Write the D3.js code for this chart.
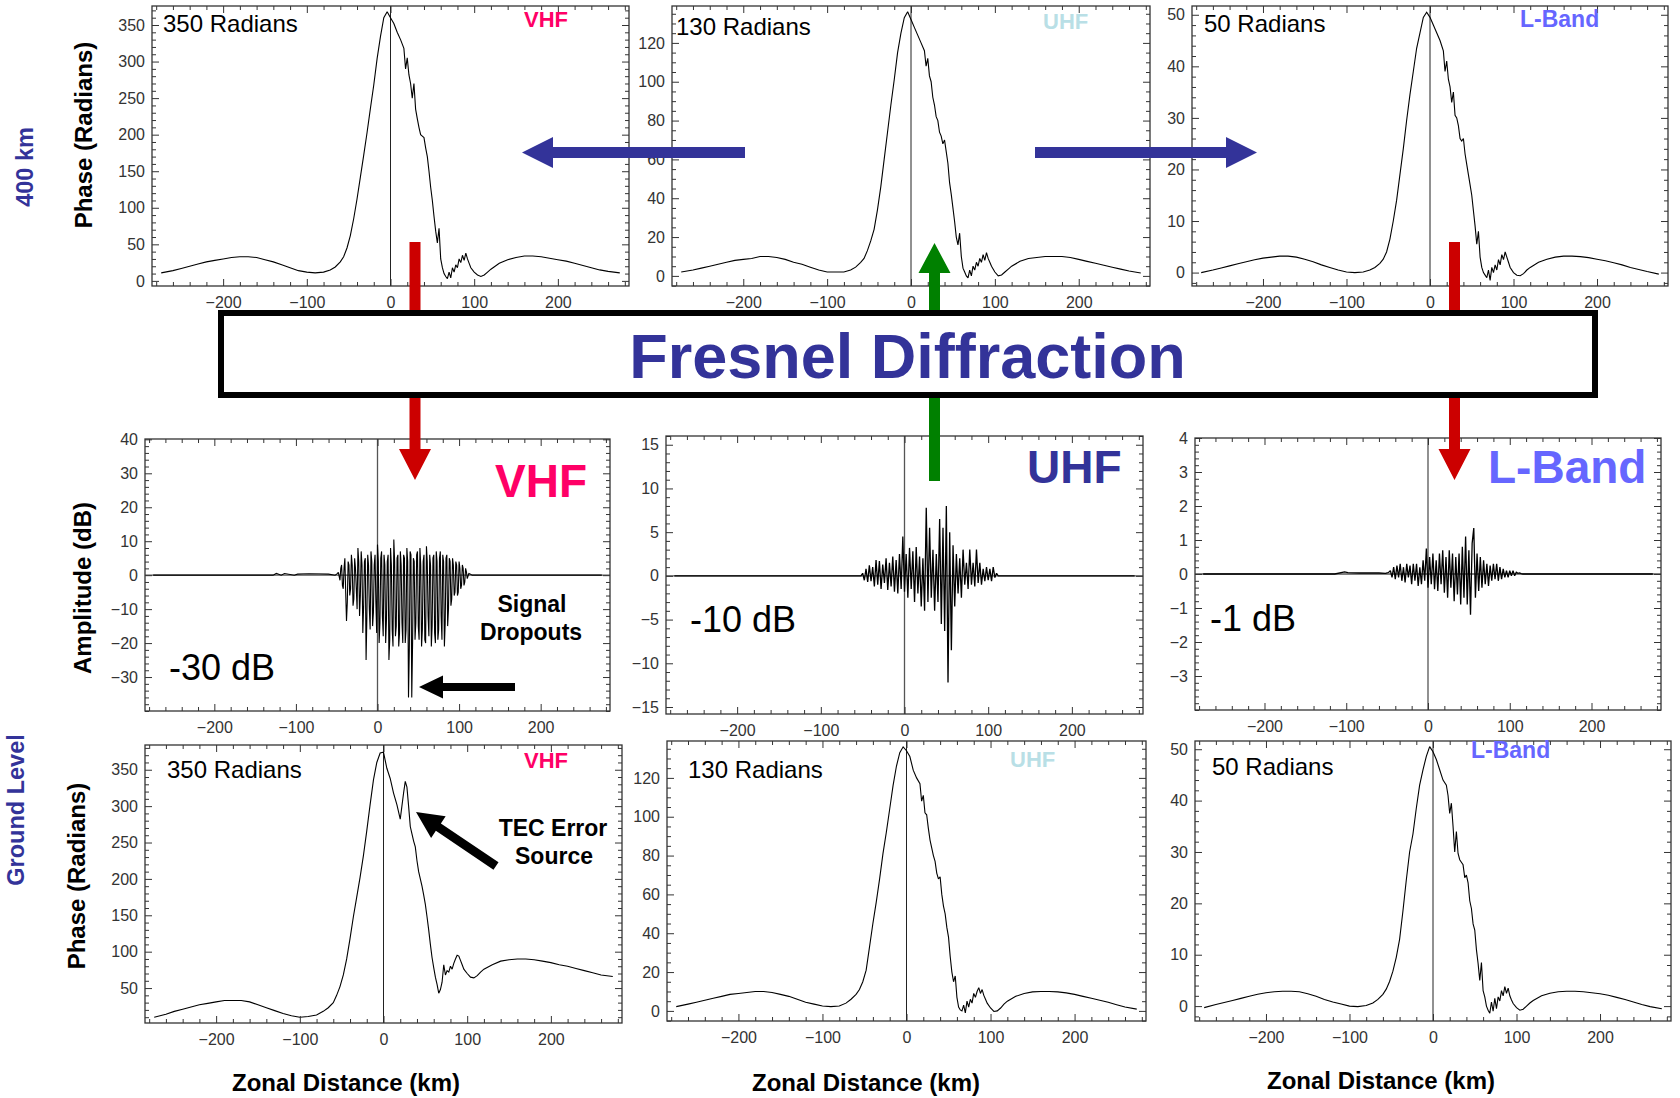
<!DOCTYPE html>
<html><head><meta charset="utf-8">
<script src="https://cdn.jsdelivr.net/npm/d3@7"></script>
<style>body{margin:0;background:#fff}svg{display:block}</style>
</head><body>
<svg id="c" width="1680" height="1098"></svg>
<script>
// ---------------- DATA ----------------
const xTicks = [-200, -100, 0, 100, 200];
const ticksVHFPhase = [0, 50, 100, 150, 200, 250, 300, 350];
const ticksVHFGround = [50, 100, 150, 200, 250, 300, 350];
const ticksUHFPhase = [0, 20, 40, 60, 80, 100, 120];
const ticksLPhase = [0, 10, 20, 30, 40, 50];
const ticksVHFAmp = [-30, -20, -10, 0, 10, 20, 30, 40];
const ticksUHFAmp = [-15, -10, -5, 0, 5, 10, 15];
const ticksLAmp = [-3, -2, -1, 0, 1, 2, 3, 4];

// zonal distance (km) of phase samples
const phaseKm = [
  -274,-260,-250,-240,-230,-220,-210,-200,-190,-180,
  -170,-160,-150,-140,-130,-120,-110,-100,-90,-80,
  -72,-66,-60,-56,-52,-48,-44,-40,-36,-32,
  -28,-24,-20,-16,-12,-8,-4,0,4,8,
  12,16,18,20,22,24,26,28,30,32,
  34,36,38,40,42,44,46,48,50,52,
  54,56,58,60,62,64,66,68,70,72,
  74,76,78,80,82,84,86,88,90,92,
  94,96,100,104,108,112,116,120,130,140,
  150,160,170,180,190,200,210,220,230,240,
  250,260,274];

// phase at 400 km (radians)
const vhf400 = [
  11,14,17,20,23,26,28,30,32,33,
  33,32,29,26,22,18,14,12,11,12,
  15,19,26,33,45,62,85,112,142,172,
  203,236,268,304,334,360,368,360,352,340,
  330,318,290,305,282,270,250,270,235,222,
  210,200,198,196,182,170,150,128,110,88,
  68,52,72,30,18,10,6,3,12,4,
  18,12,22,18,30,25,35,28,38,30,
  24,18,12,8,6,8,12,16,24,29,
  32,34,34,33,31,29,27,24,21,18,
  15,13,11];
const uhf400 = [
  2,3,4,5,6,7,8,8.5,9,10,
  10,9.5,8.5,7,6,4.5,3,2,2,2,
  3,4.5,7,9,13,18,24,34,46,60,
  74,88,101,115,125,133,136,132,128,124,
  120,116,108,112,103,100,92,88,82,80,
  74,72,68,70,64,58,48,42,35,28,
  20,16,22,10,4,2,0,-1,3,0,
  5,3,7,5,9,7,11,8,12,9,
  7,5,2,0,0.5,2,3.5,5,7.5,9,
  9.5,10,10,10,9.5,8.5,7.5,6.5,5.5,4.5,
  3.5,2.5,1.5];
const lband400 = [
  0,0.5,0.9,1.3,1.7,2.1,2.5,2.8,3.0,3.2,
  3.2,3.0,2.6,2.1,1.5,1.0,0.5,0.1,0,0.1,
  0.5,1.0,1.8,2.6,4,6.5,10,14,19,24,
  29.5,34.5,39,43.5,46.5,49.5,50.5,49.5,48,46.5,
  45,43,39,41,37.5,36,33,35,30.5,30,
  28.5,26,25.5,26,23,21,19,17,15,12,
  9,5.5,8,3,1,0,-0.5,-1,0.5,-1.5,
  1,0,1.5,0.5,2.5,1.5,3.5,2.5,4,3,
  2,1,0,-0.5,-0.6,-0.2,0.5,1,2,2.6,
  3,3.2,3.2,3.1,2.9,2.6,2.3,1.9,1.5,1.0,
  0.6,0.2,-0.3];

// phase at ground level (radians)
const vhfGround = [
  10,14,18,21,24,27,29,31,33,33,
  33,31,27,23,19,15,12,10,11,13,
  18,23,30,40,52,68,90,118,148,175,
  202,232,266,302,336,360,373,374,352,338,
  318,302,292,282,300,318,334,326,300,272,
  262,252,244,225,210,200,190,178,165,148,
  130,110,92,78,65,55,43,48,58,82,
  68,74,72,80,76,84,90,95,94,88,
  82,76,70,65,64,67,72,76,82,87,
  89,90,90,89,87,85,82,80,77,74,
  71,68,66];
const uhfGround = [
  2.2,3.5,4.5,5.5,6.5,7.5,8.5,9,9.5,10,
  10,9.5,8.5,7.5,6,4.5,3.5,2.5,2.2,2.5,
  4,6,8.5,11,15,21,33,45,56,68,
  81,92,104,116,126,133,136,134,131,124,
  120,117,108,111,102,101,94,88,84,80,
  77,71,68,69,60,54,50,43,38,28,
  20,15,18,7,2,0.5,0,3,-1,5,
  2,6,4,9,7,10,12,9,11,8,
  6,4,1.5,-0.3,0,1.5,3.5,5,7.5,9,
  9.8,10,10,9.8,9.3,8.5,7.5,6.5,5.5,4.5,
  3.2,2,0.9];
const lbandGround = [
  -0.3,0.3,0.7,1.1,1.5,1.9,2.3,2.6,2.8,2.9,
  2.9,2.8,2.4,1.9,1.3,0.8,0.4,0,-0.1,0.1,
  0.6,1.3,2.3,3.3,4.8,6.8,9.5,13,18.5,24.5,
  30,33.5,38.5,43,46,48.6,50.5,49.5,48,46,
  44,43,41,37.5,39.5,35,30,34,29.7,28.5,
  28,27.5,25,25.5,24,20.5,19,16,14.8,11,
  8.3,5,8.5,3,1.8,0,-0.8,-1.4,0.8,-1,
  1.5,-0.5,1.8,1,3,2,3.8,2.5,3.5,2,
  1.2,0.5,-0.3,-0.8,-0.6,0,0.6,1.1,2,2.5,
  2.8,2.9,2.9,2.8,2.6,2.4,2.1,1.7,1.3,0.8,
  0.3,-0.1,-0.5];

// VHF amplitude: zonal distance (km) and amplitude (dB)
const vhfAmpKm = [
  -275,-128,-124,-118,-114,-102,-98,-84,-60,-52,-50,-48,
  -46,-45,-44,-43,-42,-41,-40,-39,-38,-37,
  -36,-35,-34,-33,-32,-31,-30,-29,-28,-27,
  -26,-25,-24,-23,-22,-21,-20,-19,-18,-17,
  -16,-15,-14,-13,-12,-11,-10,-9,-8,-7,
  -6,-5,-4,-3,-2,-1,0,1,2,3,
  4,5,6,7,8,9,10,11,12,13,
  14,15,16,17,18,19,20,21,22,23,
  24,25,26,27,28,29,30,31,32,33,
  34,35,36,37,38,39,40,41,42,43,
  44,45,46,47,48,49,50,51,52,53,
  54,55,56,57,58,59,60,61,62,63,
  64,65,66,67,68,69,70,71,72,73,
  74,75,76,77,78,79,80,81,82,83,
  84,85,86,87,88,89,90,91,92,93,
  94,95,96,97,98,99,100,101,102,103,
  104,105,106,107,108,109,110,
  112,114,116,275];
const vhfAmp = [
  0,0,0.5,0,0.5,0,0.3,0.4,0.3,0,0.3,0.8,
  -1.5,2,3,-3,-4,2,5,-5,-13.5,-8,
  4,3,-6,-4,6,3,-9,-7,5,2,
  -4,-10,8,4,-12,-6,7,3,-17,-9,
  4,5,-25,-12,6,3,-10,-16,7,4,
  -15,-11,3,6,-8,-17,9,4,-20,-14,
  5,7,-12,-18,6,3,-20,-13,4,6,
  -25,-19,8,3,-16,-21,10.5,4,-18,-15,
  5,6,-21,-17,7,3,-14,-20,6,5,
  -20,-16,8,4,-36,-22,7,6,-36,-20,
  5,4,-19,-14,6,7,-15,-19,8,3,
  -21,-16,4,6,-19,-20,8.5,4,-12,-18,
  6,3,-21,-15,5,6,-17,-20,7,4,
  -19,-16,5,7,-12,-19,6,4,-21,-14,
  5,6,-15,-10,5,4,-9,-7,5,3,
  -6,-5,4,3,-6,-5,4,2,-4,-3,
  3,2,-3,-2,2,1,-1,
  0.5,0.3,0,0];

// UHF and L-band amplitude: zonal distance (km) and amplitude (dB)
const ampKm = [
  -275,-128,-124,-118,-114,-102,-98,-84,-60,
  -52,-50,-48,-46,-44,-42,-40,-38,-36,-34,
  -32,-30,-28,-26,-24,-22,-20,-18,-16,-14,
  -12,-10,-8,-6,-4,-2,0,2,4,6,
  8,10,12,14,16,18,20,22,24,26,
  28,30,32,34,36,38,40,42,44,46,
  48,50,52,54,56,58,60,62,64,66,
  68,70,72,74,76,78,80,82,84,86,
  88,90,92,94,96,98,100,102,104,106,
  108,110,112,114,116,
  275];
const uhfAmp = [
  0,0,0,0,0,0,0,0,0,
  0,0.3,-0.5,0.8,-0.7,1.2,-0.6,1.0,-1.2,1.8,
  -1.0,1.7,-1.5,1.3,-0.8,2.0,-1.6,1.5,-1.2,2.2,
  -1.8,1.8,-2.0,2.5,-1.5,4.5,-1.8,2.5,-2.5,3.2,
  -1.5,2.8,-3.0,3.3,-2.0,2.2,-3.5,2.0,-4.0,7.8,
  -3.0,5.5,-2.5,3.0,-4.0,2.5,-3.0,6.5,-5.5,5.5,
  -6.3,8.0,-12.2,5.0,-8.5,3.5,-3.5,2.5,-2.0,2.0,
  -2.5,3.0,-1.0,1.5,-1.5,3.0,-1.0,1.5,-1.2,3.0,
  -0.8,1.5,-1.0,0.8,-0.6,1.0,-0.5,0.8,-0.6,1.0,
  -0.2,0.3,0,0,0,
  0];
const lbandAmp = [
  0,0,0,0,0,0.06,0.04,0.03,0.03,
  0.02,0.03,0.05,0.1,-0.1,0.2,-0.15,0.25,-0.1,0.3,
  -0.2,0.2,-0.25,0.3,-0.1,0.25,-0.3,0.3,-0.2,0.3,
  -0.35,0.2,-0.3,0.4,-0.2,0.75,-0.4,0.5,-0.3,0.6,
  -0.45,0.4,-0.5,0.6,-0.3,0.7,-0.55,0.5,-0.7,0.7,
  -0.4,0.6,-0.8,0.5,-0.6,0.6,-0.9,0.8,-0.7,1.1,
  -0.9,0.7,-1.2,0.9,1.35,-0.7,0.6,-0.5,0.5,-0.4,
  0.4,-0.3,0.3,-0.35,0.25,-0.2,0.3,-0.15,0.3,-0.2,
  0.2,-0.15,0.15,-0.1,0.1,-0.1,0.1,-0.05,0.1,-0.05,
  0.05,0.02,0.03,0.01,0,
  0];

// ---------------- LAYOUT ----------------
const FONT = "'Liberation Sans', Arial, Helvetica, sans-serif";
const NAVY = "#333399", PINK = "#ff0066", LIGHT = "#b9dfe6", LBLUE = "#6666ff";
const xDomain = [-285, 285];

const panels = [
  {L:152, R:629,  T:6,   B:286,  yd:[-7, 376],    yt:ticksVHFPhase,  mn:10,  xs:phaseKm,  ys:vhf400,   sw:1.1},
  {L:672, R:1150, T:6,   B:286,  yd:[-5.2, 139],  yt:ticksUHFPhase,  mn:5,   xs:phaseKm,  ys:uhf400,   sw:1.1},
  {L:1192,R:1668, T:6,   B:286,  yd:[-2.6, 51.7], yt:ticksLPhase,    mn:2,   xs:phaseKm,  ys:lband400, sw:1.1},
  {L:145, R:610,  T:439, B:711,  yd:[-40, 40.1],  yt:ticksVHFAmp,    mn:2,   xs:vhfAmpKm, ys:vhfAmp,   sw:1.1, amp:true},
  {L:666, R:1143, T:436, B:714,  yd:[-15.8, 16],  yt:ticksUHFAmp,    mn:1,   xs:ampKm,    ys:uhfAmp,   sw:1.3, amp:true},
  {L:1195,R:1661, T:438, B:710,  yd:[-4, 4],      yt:ticksLAmp,      mn:0.2, xs:ampKm,    ys:lbandAmp, sw:1.3, amp:true},
  {L:145, R:622,  T:745, B:1023, yd:[2, 384],     yt:ticksVHFGround, mn:10,  xs:phaseKm,  ys:vhfGround,   sw:1.1},
  {L:667, R:1146, T:741, B:1021, yd:[-5.2, 139],  yt:ticksUHFPhase,  mn:5,   xs:phaseKm,  ys:uhfGround,   sw:1.1},
  {L:1195,R:1671, T:741, B:1021, yd:[-2.9, 51.6], yt:ticksLPhase,    mn:2,   xs:phaseKm,  ys:lbandGround, sw:1.1}
];

const svg = d3.select('#c');
const defs = svg.append('defs');
const fmt = d3.format('d');

function minors(domain, step, majors) {
  const lo = Math.ceil(domain[0] / step - 1e-9), hi = Math.floor(domain[1] / step + 1e-9);
  const out = [];
  for (let k = lo; k <= hi; k++) {
    const v = +(k * step).toFixed(6);
    if (!majors.some(m => Math.abs(m - v) < 1e-6)) out.push(v);
  }
  return out;
}

function styleAxis(g) {
  g.select('.domain').remove();
  g.selectAll('.tick line').attr('stroke', '#333').attr('stroke-width', 1);
  g.selectAll('.tick text').attr('font-family', FONT).attr('font-size', 16).attr('fill', '#333');
}

panels.forEach((p, i) => {
  const x = d3.scaleLinear().domain(xDomain).range([p.L, p.R]);
  const y = d3.scaleLinear().domain(p.yd).range([p.B, p.T]);
  const g = svg.append('g');
  const cid = 'clip' + i;
  defs.append('clipPath').attr('id', cid).append('rect')
    .attr('x', p.L).attr('y', p.T).attr('width', p.R - p.L).attr('height', p.B - p.T);

  // axes lines (Mathematica style)
  g.append('line').attr('x1', x(0)).attr('x2', x(0)).attr('y1', p.T).attr('y2', p.B)
    .attr('stroke', p.amp ? '#555' : '#222').attr('stroke-width', p.amp ? 1.3 : 1);
  if (p.amp) {
    g.append('line').attr('x1', p.L).attr('x2', p.R).attr('y1', y(0)).attr('y2', y(0))
      .attr('stroke', '#555').attr('stroke-width', 1.3);
  }

  // data
  const line = d3.line().x(d => x(d[0])).y(d => y(d[1]));
  g.append('path').datum(d3.zip(p.xs, p.ys))
    .attr('clip-path', `url(#${cid})`)
    .attr('d', line).attr('fill', 'none').attr('stroke', '#000')
    .attr('stroke-width', p.sw).attr('stroke-linejoin', 'miter').attr('stroke-miterlimit', 2);

  // ticks (inward, all four sides)
  const xm = minors(xDomain, 20, xTicks);
  const ym = minors(p.yd, p.mn, p.yt);
  g.append('g').attr('transform', `translate(0,${p.B})`)
    .call(d3.axisBottom(x).tickValues(xTicks).tickSize(-7).tickPadding(10.5).tickFormat(fmt)).call(styleAxis);
  g.append('g').attr('transform', `translate(0,${p.B})`)
    .call(d3.axisBottom(x).tickValues(xm).tickSize(-4).tickFormat('')).call(styleAxis);
  g.append('g').attr('transform', `translate(0,${p.T})`)
    .call(d3.axisTop(x).tickValues(xTicks).tickSize(-7).tickFormat('')).call(styleAxis);
  g.append('g').attr('transform', `translate(0,${p.T})`)
    .call(d3.axisTop(x).tickValues(xm).tickSize(-4).tickFormat('')).call(styleAxis);
  g.append('g').attr('transform', `translate(${p.L},0)`)
    .call(d3.axisLeft(y).tickValues(p.yt).tickSize(-7).tickPadding(7).tickFormat(fmt)).call(styleAxis);
  g.append('g').attr('transform', `translate(${p.L},0)`)
    .call(d3.axisLeft(y).tickValues(ym).tickSize(-4).tickFormat('')).call(styleAxis);
  g.append('g').attr('transform', `translate(${p.R},0)`)
    .call(d3.axisRight(y).tickValues(p.yt).tickSize(-7).tickFormat('')).call(styleAxis);
  g.append('g').attr('transform', `translate(${p.R},0)`)
    .call(d3.axisRight(y).tickValues(ym).tickSize(-4).tickFormat('')).call(styleAxis);

  // frame
  g.append('rect').attr('x', p.L).attr('y', p.T).attr('width', p.R - p.L).attr('height', p.B - p.T)
    .attr('fill', 'none').attr('stroke', '#333').attr('stroke-width', 1.3);
});

// ---------------- TEXT ----------------
function txt(s, x, y, size, opts = {}) {
  const t = svg.append('text').text(s).attr('x', x).attr('y', y)
    .attr('font-family', FONT).attr('font-size', size)
    .attr('font-weight', opts.bold ? 'bold' : 'normal')
    .attr('fill', opts.fill || '#000')
    .attr('text-anchor', opts.anchor || 'start');
  if (opts.rot) t.attr('transform', `rotate(-90,${x},${y})`);
  return t;
}
// row labels
txt('400 km', 33, 167, 23.5, {bold:true, fill:NAVY, anchor:'middle', rot:true});
txt('Ground Level', 24, 810, 23.5, {bold:true, fill:NAVY, anchor:'middle', rot:true});
// axis titles
txt('Phase (Radians)', 92, 135, 24, {bold:true, anchor:'middle', rot:true});
txt('Amplitude (dB)', 91, 588, 24, {bold:true, anchor:'middle', rot:true});
txt('Phase (Radians)', 85, 876, 24, {bold:true, anchor:'middle', rot:true});
txt('Zonal Distance (km)', 346, 1091, 24, {bold:true, anchor:'middle'});
txt('Zonal Distance (km)', 866, 1091, 24, {bold:true, anchor:'middle'});
txt('Zonal Distance (km)', 1381, 1089, 24, {bold:true, anchor:'middle'});
// top row
txt('350 Radians', 163, 32, 24);
txt('VHF', 524, 27, 22, {bold:true, fill:PINK});
txt('130 Radians', 676, 35, 24);
txt('UHF', 1043, 29, 22, {bold:true, fill:LIGHT});
txt('50 Radians', 1204, 32, 24);
txt('L-Band', 1520, 27, 23, {bold:true, fill:LBLUE});
// middle row
txt('VHF', 495, 497, 46, {bold:true, fill:PINK});
txt('-30 dB', 169, 680, 36);
txt('Signal', 532, 612, 23, {bold:true, anchor:'middle'});
txt('Dropouts', 531, 640, 23, {bold:true, anchor:'middle'});
txt('UHF', 1027, 483, 46, {bold:true, fill:NAVY});
txt('-10 dB', 690, 632, 36);
txt('L-Band', 1488, 483, 46, {bold:true, fill:LBLUE});
txt('-1 dB', 1210, 631, 36);
// bottom row
txt('350 Radians', 167, 778, 24);
txt('VHF', 524, 768, 22, {bold:true, fill:PINK});
txt('TEC Error', 553, 836, 23, {bold:true, anchor:'middle'});
txt('Source', 554, 864, 23, {bold:true, anchor:'middle'});
txt('130 Radians', 688, 778, 24);
txt('UHF', 1010, 767, 22, {bold:true, fill:LIGHT});
txt('50 Radians', 1212, 775, 24);
txt('L-Band', 1471, 758, 23, {bold:true, fill:LBLUE});

// ---------------- ARROWS & BOX ----------------
function poly(pts, fill) {
  svg.append('path').attr('d', 'M' + pts.map(p => p.join(',')).join('L') + 'Z').attr('fill', fill);
}
function arrow(tail, tip, shaftHalf, headHalf, headLen, fill) {
  const dx = tip[0] - tail[0], dy = tip[1] - tail[1], len = Math.hypot(dx, dy);
  const ux = dx / len, uy = dy / len, nx = -uy, ny = ux;
  const bx = tip[0] - ux * headLen, by = tip[1] - uy * headLen;
  poly([
    [tail[0] + nx * shaftHalf, tail[1] + ny * shaftHalf],
    [bx + nx * shaftHalf, by + ny * shaftHalf],
    [bx + nx * headHalf, by + ny * headHalf],
    tip,
    [bx - nx * headHalf, by - ny * headHalf],
    [bx - nx * shaftHalf, by - ny * shaftHalf],
    [tail[0] - nx * shaftHalf, tail[1] - ny * shaftHalf]
  ], fill);
}
// vertical arrows (drawn under the box)
arrow([415, 242], [415, 480], 5.5, 16, 31, '#cc0000');
arrow([1454.5, 242], [1454.5, 480], 5.5, 16, 31, '#cc0000');
arrow([934.5, 481], [934.5, 243], 5.5, 16, 30, '#008000');
// Fresnel box
svg.append('rect').attr('x', 221).attr('y', 313).attr('width', 1374).attr('height', 82)
  .attr('fill', '#fff').attr('stroke', '#000').attr('stroke-width', 6);
txt('Fresnel Diffraction', 907.5, 378, 63, {bold:true, fill:NAVY, anchor:'middle'});
// horizontal blue arrows
arrow([745, 152.5], [522, 152.5], 5.5, 15.5, 31, NAVY);
arrow([1035, 152.5], [1257, 152.5], 5.5, 15.5, 31, NAVY);
// black annotation arrows
arrow([515, 687], [419, 687], 4, 11.5, 24, '#000');
arrow([496, 866], [416, 812], 4.5, 13, 27, '#000');
</script>
</body></html>
